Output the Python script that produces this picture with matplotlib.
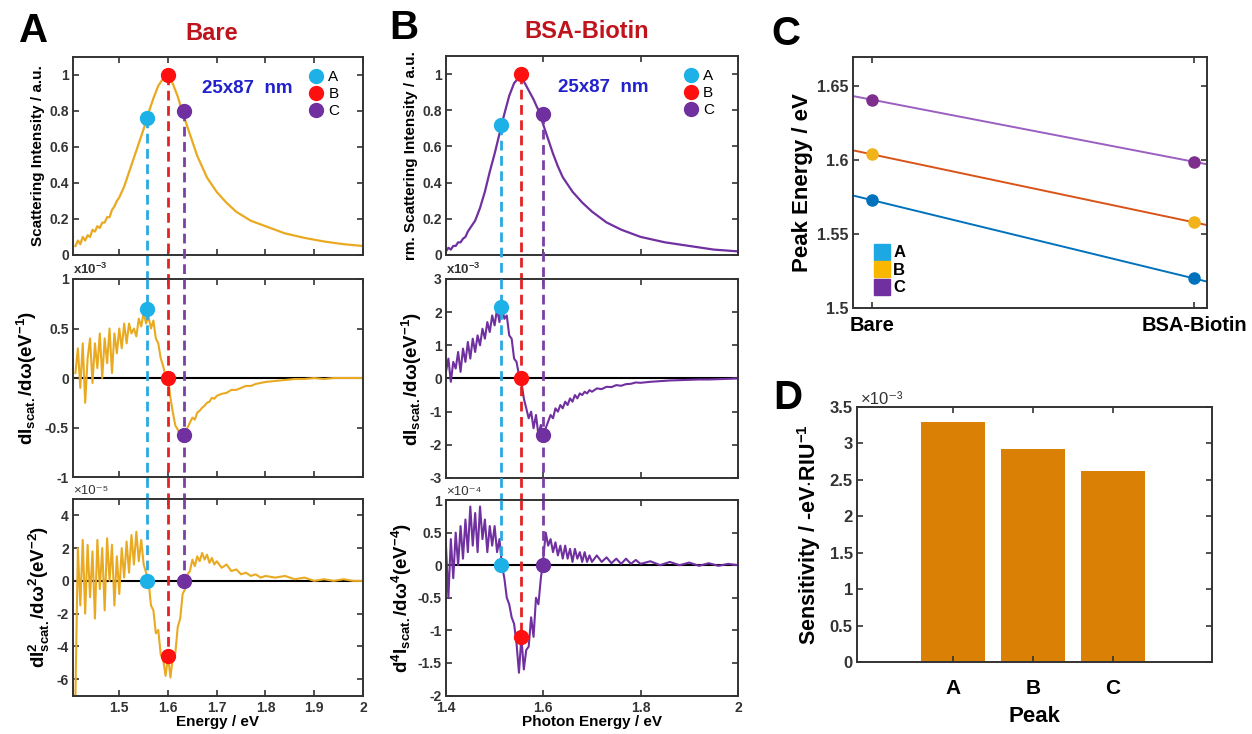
import numpy as np
import matplotlib.pyplot as plt
from matplotlib.lines import Line2D
from matplotlib.ticker import FormatStrFormatter

plt.rcParams['font.family'] = ['Liberation Sans', 'DejaVu Sans']
plt.rcParams['font.weight'] = 'bold'
plt.rcParams['axes.labelweight'] = 'bold'
plt.rcParams['mathtext.fontset'] = 'custom'
plt.rcParams['mathtext.rm'] = 'Liberation Sans:bold'
plt.rcParams['mathtext.it'] = 'Liberation Sans:bold'
plt.rcParams['mathtext.bf'] = 'Liberation Sans:bold'

# ---------------- data ----------------
# panel A (Bare) normalised scattering spectrum
bare_e = [1.41, 1.415, 1.42, 1.425, 1.43, 1.435, 1.44, 1.445, 1.45, 1.455, 1.46, 1.465,
          1.47, 1.475, 1.48, 1.485, 1.49, 1.495, 1.50, 1.51, 1.52, 1.53, 1.54, 1.55,
          1.56, 1.57, 1.58, 1.59, 1.60, 1.61, 1.62, 1.63, 1.64, 1.65, 1.66, 1.67, 1.68,
          1.70, 1.72, 1.74, 1.77, 1.80, 1.84, 1.88, 1.92, 1.96, 2.00]
bare_int = [0.05, 0.08, 0.06, 0.10, 0.08, 0.11, 0.10, 0.14, 0.13, 0.16, 0.15, 0.18,
            0.18, 0.21, 0.21, 0.25, 0.27, 0.30, 0.32, 0.38, 0.46, 0.54, 0.62, 0.70,
            0.79, 0.87, 0.94, 0.98, 0.99, 0.95, 0.88, 0.79, 0.71, 0.63, 0.55, 0.49, 0.43,
            0.35, 0.29, 0.24, 0.19, 0.16, 0.12, 0.095, 0.075, 0.06, 0.05]

# derivative sampling grid (dense part + tail)
bare_de = list(np.linspace(1.41, 1.70, 59)) + [1.71, 1.72, 1.73, 1.74, 1.75, 1.76, 1.77, 1.78, 1.79, 1.80,
                                               1.82, 1.84, 1.86, 1.88, 1.90, 1.92, 1.94, 1.96, 1.98, 2.00]
bare_d1 = [0.05, 0.30, -0.10, 0.35, -0.25, 0.20, 0.40, -0.05, 0.35, 0.10,
           0.45, 0.00, 0.40, 0.15, 0.50, 0.05, 0.45, 0.25, 0.50, 0.30,
           0.55, 0.35, 0.55, 0.45, 0.50, 0.42, 0.60, 0.52, 0.66, 0.55,
           0.62, 0.50, 0.58, 0.40, 0.35, 0.20, 0.12, 0.02, 0.00, -0.20,
           -0.35, -0.48, -0.52, -0.58, -0.62, -0.55, -0.50, -0.45, -0.40, -0.42,
           -0.35, -0.33, -0.30, -0.28, -0.25, -0.24, -0.20, -0.21, -0.18,
           -0.16, -0.15, -0.12, -0.12, -0.10, -0.08, -0.08, -0.06, -0.05, -0.04,
           -0.03, -0.02, -0.01, -0.01, 0.00, -0.01, 0.00, 0.00, 0.00, 0.00]   # x1e-3
bare_d2 = [-7.0, 2.0, -1.5, 2.5, -2.0, 2.2, -1.0, 1.8, -2.3, 2.5,
           -0.5, 2.0, -1.8, 2.6, 0.0, 2.2, -1.5, 1.5, -0.8, 2.0,
           0.2, 2.4, 0.5, 2.8, 1.0, 3.0, 1.2, 2.5, 1.0, 0.5,
           0.0, -1.5, -1.8, -3.2, -3.0, -4.5, -4.8, -5.8, -4.6, -5.9,
           -4.6, -4.4, -2.8, -2.3, -0.8, -0.5, 0.4, 0.6, 1.3, 0.9,
           1.5, 1.2, 1.7, 1.3, 1.6, 1.1, 1.4, 1.0, 1.2,
           0.8, 1.0, 0.6, 0.7, 0.4, 0.5, 0.3, 0.4, 0.2, 0.3,
           0.2, 0.3, 0.1, 0.2, 0.0, 0.1, 0.0, 0.1, 0.0, 0.0]   # x1e-5

# panel B (BSA-Biotin)
bsa_e = [1.40, 1.405, 1.41, 1.415, 1.42, 1.425, 1.43, 1.435, 1.44, 1.445, 1.45, 1.46,
         1.47, 1.48, 1.49, 1.50, 1.51, 1.52, 1.53, 1.54, 1.55, 1.56, 1.57, 1.58, 1.59,
         1.60, 1.61, 1.62, 1.63, 1.64, 1.66, 1.68, 1.70, 1.73, 1.76, 1.80, 1.85, 1.90,
         1.95, 2.00]
bsa_int = [0.02, 0.04, 0.03, 0.05, 0.05, 0.07, 0.07, 0.09, 0.10, 0.13, 0.15, 0.19,
           0.26, 0.35, 0.46, 0.56, 0.67, 0.78, 0.88, 0.95, 0.98, 0.96, 0.91, 0.86, 0.80,
           0.72, 0.64, 0.56, 0.49, 0.43, 0.35, 0.29, 0.24, 0.18, 0.14, 0.10, 0.07, 0.05,
           0.03, 0.02]

bsa_de = list(np.linspace(1.40, 1.70, 61)) + [1.71, 1.72, 1.73, 1.74, 1.75, 1.76, 1.77, 1.78, 1.79, 1.80,
                                              1.82, 1.84, 1.86, 1.88, 1.90, 1.92, 1.94, 1.96, 1.98, 2.00]
bsa_d1 = [0.2, 0.6, -0.1, 0.5, 0.3, 0.8, 0.2, 0.9, 0.5, 1.1,
          0.6, 1.2, 0.8, 1.3, 1.0, 1.5, 1.2, 1.7, 1.4, 1.9,
          1.6, 2.1, 1.7, 2.2, 1.8, 1.9, 1.3, 1.2, 0.6, 0.5,
          0.1, -0.1, -0.6, -0.9, -1.2, -1.0, -1.5, -1.1, -1.7, -1.4,
          -1.9, -1.5, -1.3, -1.1, -1.2, -0.9, -1.0, -0.8, -0.9, -0.7,
          -0.8, -0.6, -0.7, -0.5, -0.6, -0.45, -0.5, -0.4, -0.45, -0.35,
          -0.4,
          -0.3, -0.32, -0.25, -0.26, -0.2, -0.22, -0.17, -0.16, -0.12, -0.13,
          -0.1, -0.08, -0.06, -0.05, -0.04, -0.03, -0.03, -0.02, -0.01, 0.0]   # x1e-3
bsa_d2 = [0.3, -0.5, 0.4, -0.2, 0.5, 0.0, 0.6, 0.1, 0.7, 0.2,
          0.9, 0.3, 0.8, 0.2, 0.9, 0.4, 0.7, 0.2, 0.6, 0.3,
          0.6, 0.2, 0.4, 0.0, -0.2, -0.5, -0.6, -0.8, -0.9, -1.2,
          -1.65, -1.1, -1.6, -1.3, -1.25, -0.8, -1.1, -0.5, -0.6, -0.2,
          0.1, 0.5, 0.3, 0.4, 0.2, 0.35, 0.15, 0.3, 0.1, 0.3,
          0.1, 0.25, 0.05, 0.25, 0.1, 0.2, 0.05, 0.2, 0.05, 0.15,
          0.05,
          0.15, 0.05, 0.12, 0.03, 0.1, 0.02, 0.1, 0.02, 0.08, 0.02,
          0.06, 0.0, 0.05, 0.0, 0.04, -0.01, 0.03, -0.01, 0.02, 0.0]   # x1e-4

# peak markers (A, B, C)
peak_names = ['A', 'B', 'C']
bare_peak_x = [1.556, 1.599, 1.633]
bare_top_y = [0.76, 1.0, 0.80]
bare_d1_y = [0.70, 0.0, -0.58]
bare_d2_y = [0.0, -4.6, 0.0]
bsa_peak_x = [1.514, 1.555, 1.599]
bsa_top_y = [0.72, 1.0, 0.78]
bsa_d1_y = [2.15, 0.0, -1.7]
bsa_d2_y = [0.0, -1.1, 0.0]

# panel C
conditions = ['Bare', 'BSA-Biotin']
peak_bare = [1.573, 1.604, 1.641]
peak_bsa = [1.520, 1.558, 1.599]

# panel D
sensitivity = [3.30, 2.93, 2.62]   # x1e-3

# ---------------- styling ----------------
mk_cols = ['#1DB1E8', '#FF1010', '#7030A0']
dash_cols = ['#29A9E0', '#E52222', '#7B3FA5']
gold = '#E9AA22'
purple = '#7030A0'
dark = '#333333'


def style(ax, fs=10):
    ax.tick_params(direction='in', top=True, right=True, length=4, width=1.2,
                   labelsize=fs, colors=dark, pad=3)
    for s in ax.spines.values():
        s.set_linewidth(1.4)
        s.set_color(dark)


def drop_lines(axs, xs, top_y, bot_y):
    # dashed guide from top-panel marker down to bottom-panel marker
    for k, x in enumerate(xs):
        for i, ax in enumerate(axs):
            y0, y1 = ax.get_ylim()
            start = (top_y[k] - y0) / (y1 - y0) if i == 0 else 1.0
            if i < len(axs) - 1:
                gap = ax.get_position().y0 - axs[i + 1].get_position().y1
                end = -gap / ax.get_position().height
            else:
                end = (bot_y[k] - y0) / (y1 - y0)
            ax.plot([x, x], [start, end], transform=ax.get_xaxis_transform(),
                    ls='--', dashes=(3.5, 2), lw=2, color=dash_cols[k],
                    clip_on=False, zorder=4)


fig = plt.figure(figsize=(12.52, 7.34), dpi=100)


def spectrum_column(left, width, rows, e, inten, de, d1, d2, col, px, ty, y1, y2,
                    xlim, xticks, d1lim, d1ticks, d2lim, d2ticks, labels, exps, xlabel, size_x):
    axs = [fig.add_axes([left, b, width, h]) for b, h in rows]
    a0, a1, a2 = axs
    a0.plot(e, inten, color=col, lw=1.6, zorder=2)
    a1.plot(de, d1, color=col, lw=1.5, zorder=2)
    a2.plot(de, d2, color=col, lw=1.5, zorder=2)
    for ax in (a1, a2):
        ax.axhline(0, color='black', lw=1.5, zorder=1)
    for k in range(3):
        a0.plot(px[k], ty[k], 'o', ms=10, color=mk_cols[k], zorder=5, label=peak_names[k])
        a1.plot(px[k], y1[k], 'o', ms=10, color=mk_cols[k], zorder=5)
        a2.plot(px[k], y2[k], 'o', ms=10, color=mk_cols[k], zorder=5)
    a0.set_ylim(0, 1.1)
    a0.set_yticks([0, 0.2, 0.4, 0.6, 0.8, 1])
    a1.set_ylim(*d1lim)
    a1.set_yticks(d1ticks)
    a2.set_ylim(*d2lim)
    a2.set_yticks(d2ticks)
    for ax in axs:
        ax.set_xlim(*xlim)
        ax.set_xticks(xticks)
        style(ax, 10)
        ax.yaxis.set_major_formatter(FormatStrFormatter('%g'))
    a0.tick_params(labelbottom=False)
    a1.tick_params(labelbottom=False)
    a2.tick_params(axis='x', pad=4)
    a2.xaxis.set_major_formatter(FormatStrFormatter('%g'))
    a2.set_xlabel(xlabel, fontsize=11, labelpad=0)
    a0.set_ylabel(labels[0], fontsize=11, labelpad=3)
    a1.set_ylabel(labels[1], fontsize=13.5, labelpad=4)
    a2.set_ylabel(labels[2], fontsize=13.5, labelpad=3)
    a1.text(0.0, 1.01, r'x10$^{-3}$', transform=a1.transAxes, fontsize=9.5, color=dark,
            va='bottom', ha='left')
    a2.text(0.0, 1.01, '×10' + exps, transform=a2.transAxes, fontsize=9.5,
            color=dark, va='bottom', ha='left', fontweight='normal')
    a0.text(size_x, 0.84, '25x87  nm', transform=a0.transAxes, color='#2222CC',
            fontsize=13.5, ha='center', va='center')
    a0.legend(loc='upper right', bbox_to_anchor=(0.95, 0.98), frameon=False,
              handletextpad=0.3, labelspacing=0.2, borderaxespad=0.2, handlelength=1.0,
              prop={'weight': 'normal', 'size': 11})
    drop_lines(axs, px, ty, y2)
    return axs


rows_a = [(0.6526, 0.2698), (0.3501, 0.2698), (0.0524, 0.2678)]
rows_b = [(0.6526, 0.2711), (0.3488, 0.2711), (0.0524, 0.2664)]

spectrum_column(0.0583, 0.2316, rows_a, bare_e, bare_int, bare_de, bare_d1, bare_d2, gold,
                bare_peak_x, bare_top_y, bare_d1_y, bare_d2_y,
                (1.405, 2.0), [1.5, 1.6, 1.7, 1.8, 1.9, 2.0],
                (-1, 1), [-1, -0.5, 0, 0.5, 1], (-7, 5), [-6, -4, -2, 0, 2, 4],
                ['Scattering Intensity / a.u.',
                 r'dI$_{\rm scat.}$/dω(eV$^{-1}$)',
                 r'dI$^{2}_{\rm scat.}$/dω$^{2}$(eV$^{-2}$)'], '⁻⁵', 'Energy / eV', 0.60)

spectrum_column(0.3562, 0.2332, rows_b, bsa_e, bsa_int, bsa_de, bsa_d1, bsa_d2, purple,
                bsa_peak_x, bsa_top_y, bsa_d1_y, bsa_d2_y,
                (1.4, 2.0), [1.4, 1.6, 1.8, 2.0],
                (-3, 3), [-3, -2, -1, 0, 1, 2, 3], (-2, 1), [-2, -1.5, -1, -0.5, 0, 0.5, 1],
                ['rm. Scattering Intensity / a.u.',
                 r'dI$_{\rm scat.}$/dω(eV$^{-1}$)',
                 r'd$^{4}$I$_{\rm scat.}$/dω$^{4}$(eV$^{-4}$)'], '⁻⁴', 'Photon Energy / eV', 0.54)

# ---------------- panel C ----------------
axC = fig.add_axes([0.6813, 0.5804, 0.2827, 0.3420])
cond_x = np.array([1, 2])
xl = np.array([0.94, 2.04])
line_cols = ['#0072BD', '#D95319', '#9B5FC0']
dot_cols = ['#0072BD', '#F2B21A', '#7E2F8E']
for k in range(3):
    slope = (peak_bsa[k] - peak_bare[k]) / (cond_x[1] - cond_x[0])
    axC.plot(xl, peak_bare[k] + slope * (xl - cond_x[0]), color=line_cols[k], lw=1.4)
    axC.plot(cond_x, [peak_bare[k], peak_bsa[k]], 'o', ms=8, color=dot_cols[k])
axC.set_xlim(*xl)
axC.set_ylim(1.5, 1.67)
axC.set_yticks([1.5, 1.55, 1.6, 1.65])
axC.yaxis.set_major_formatter(FormatStrFormatter('%g'))
axC.set_xticks(cond_x)
style(axC, 11.5)
axC.set_xticklabels(conditions, fontsize=14.5, color='black')
axC.tick_params(axis='x', pad=6)
axC.set_ylabel('Peak Energy / eV', fontsize=16, color='black', labelpad=3)
leg_cols = ['#1CA8E3', '#F9B700', '#7030A0']
handles = [Line2D([], [], marker='s', ls='none', ms=11, color=c) for c in leg_cols]
axC.legend(handles, peak_names, loc='lower left', bbox_to_anchor=(0.01, -0.01), frameon=False,
           fontsize=12, handletextpad=0.1, labelspacing=0.15, handlelength=1.2)

# ---------------- panel D ----------------
axD = fig.add_axes([0.6845, 0.0981, 0.2835, 0.3474])
bar_x = np.arange(1, len(peak_names) + 1)
axD.bar(bar_x, sensitivity, width=0.8, color='#DA8004')
axD.set_xlim(-0.2, 4.24)
axD.set_ylim(0, 3.5)
axD.set_yticks(np.arange(0, 3.51, 0.5))
axD.yaxis.set_major_formatter(FormatStrFormatter('%g'))
axD.set_xticks(bar_x)
style(axD, 12)
axD.set_xticklabels(peak_names, fontsize=15, color='black')
axD.tick_params(axis='x', pad=12)
axD.set_xlabel('Peak', fontsize=16, color='black', labelpad=6)
axD.set_ylabel(r'Sensitivity / -eV$\cdot$RIU$^{-1}$', fontsize=15.5, color='black', labelpad=5)
axD.text(0.01, 1.0, '×10⁻³', transform=axD.transAxes, fontsize=12, color=dark,
         va='bottom', ha='left', fontweight='normal')

# ---------------- titles and panel letters ----------------
fig.text(212 / 1252, 1 - 34 / 734, 'Bare', color='#C0141C', fontsize=17, ha='center', va='center')
fig.text(587 / 1252, 1 - 32 / 734, 'BSA-Biotin', color='#C0141C', fontsize=17, ha='center', va='center')
for letter, (x, y) in zip('ABCD', [(34, 31), (404, 28), (786, 34), (788, 398)]):
    fig.text(x / 1252, 1 - y / 734, letter, fontsize=29, ha='center', va='center',
             fontweight='bold', color='black')

fig.savefig('out.png', dpi=100)
